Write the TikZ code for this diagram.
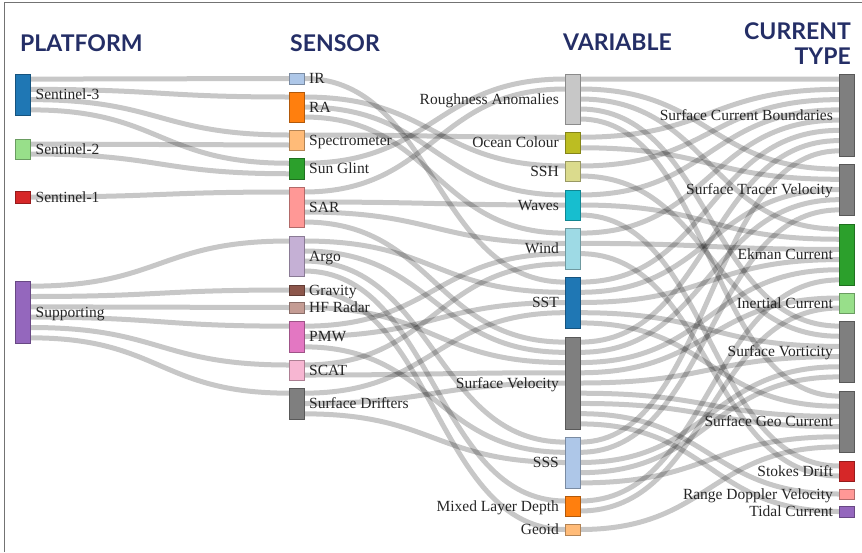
\documentclass[tikz,border=0pt]{standalone}
\usepackage{fontspec}
\setmainfont{Liberation Serif}
\newfontfamily\headfont{Lato}
\usetikzlibrary{positioning,calc,backgrounds}

\definecolor{headcolor}{RGB}{36,46,102}
\definecolor{cblue}{RGB}{31,119,180}
\definecolor{cltblue}{RGB}{174,199,232}
\definecolor{corange}{RGB}{255,127,14}
\definecolor{cltorange}{RGB}{255,187,120}
\definecolor{cgreen}{RGB}{44,160,44}
\definecolor{cltgreen}{RGB}{152,223,138}
\definecolor{cred}{RGB}{214,39,40}
\definecolor{cpink}{RGB}{255,152,150}
\definecolor{cpurple}{RGB}{148,103,189}
\definecolor{clilac}{RGB}{197,176,213}
\definecolor{cbrown}{RGB}{140,86,75}
\definecolor{cltbrown}{RGB}{196,156,148}
\definecolor{cmagenta}{RGB}{227,119,194}
\definecolor{cltpink}{RGB}{247,182,210}
\definecolor{cgray}{RGB}{127,127,127}
\definecolor{cltgray}{RGB}{199,199,199}
\definecolor{colive}{RGB}{188,189,34}
\definecolor{cltolive}{RGB}{219,219,141}
\definecolor{ccyan}{RGB}{23,190,207}
\definecolor{cltcyan}{RGB}{158,218,229}

\tikzset{
  bar/.style={draw=#1!70!black, fill=#1, line width=0.6pt,
    minimum width=15pt, inner sep=0pt, outer sep=0pt},
  lbl/.style={font=\fontsize{15.5}{16}\selectfont, text=black!85,
    inner sep=0pt, text height=0.7em, text depth=0pt, yshift=-1.5pt},
  head/.style={font=\headfont\bfseries\fontsize{23}{25}\selectfont,
    text=headcolor, inner sep=0pt},
  flow/.style={draw=black, draw opacity=0.22, line width=5pt}
}

% link from slot #2 of #3 on node #1 to slot #5 of #6 on node #4
\newcommand\flowlink[6]{%
  \draw[flow] ($(#1.north east)!{(#2-0.5)/#3}!(#1.south east)$)
    .. controls +(130,0) and +(-130,0) ..
    ($(#4.north west)!{(#5-0.5)/#6}!(#4.south west)$);}

\begin{document}
\begin{tikzpicture}[x=1pt,y=-1pt]
\useasboundingbox (0,0) rectangle (862,552);

% -------- frame --------
\draw[black!55, line width=1pt] (4.5,552) -- (4.5,2) -- (862,2);

% -------- headings --------
\node[head, anchor=north west] (hplat) at (20,34) {PLATFORM};
\node[head, anchor=north west] (hsens) at (290,34) {SENSOR};
\node[head, anchor=north west] (hvar) at (563,34) {VARIABLE};
\node[head, anchor=north east, align=right] (hcur) at (851,22) {CURRENT\\TYPE};

% -------- platforms --------
\node[bar=cblue, minimum height=41pt] (s3) at (23,94.5) {};
\node[bar=cltgreen, minimum height=20pt] (s2) at (23,149) {};
\node[bar=cred, minimum height=12pt] (s1) at (23,197) {};
\node[bar=cpurple, minimum height=62pt] (sup) at (23,312) {};
\node[lbl, right=5pt of s3] {Sentinel-3};
\node[lbl, right=5pt of s2] {Sentinel-2};
\node[lbl, right=5pt of s1] {Sentinel-1};
\node[lbl, right=5pt of sup] {Supporting};

% -------- sensors --------
\node[bar=cltblue, minimum height=11pt] (ir) at (296.5,78.5) {};
\node[bar=corange, minimum height=30pt] (ra) at (296.5,107) {};
\node[bar=cltorange, minimum height=20pt] (spec) at (296.5,140) {};
\node[bar=cgreen, minimum height=21pt] (glint) at (296.5,168.5) {};
\node[bar=cpink, minimum height=40pt] (sar) at (296.5,207) {};
\node[bar=clilac, minimum height=40pt] (argo) at (296.5,256) {};
\node[bar=cbrown, minimum height=10pt] (grav) at (296.5,290) {};
\node[bar=cltbrown, minimum height=11pt] (hfr) at (296.5,307.5) {};
\node[bar=cmagenta, minimum height=31pt] (pmw) at (296.5,336.5) {};
\node[bar=cltpink, minimum height=20pt] (scat) at (296.5,370) {};
\node[bar=cgray, minimum height=31pt] (drift) at (296.5,403.5) {};
\node[lbl, right=5pt of ir] {IR};
\node[lbl, right=5pt of ra] {RA};
\node[lbl, right=5pt of spec] {Spectrometer};
\node[lbl, right=5pt of glint] {Sun Glint};
\node[lbl, right=5pt of sar] {SAR};
\node[lbl, right=5pt of argo] {Argo};
\node[lbl, right=5pt of grav] {Gravity};
\node[lbl, right=5pt of hfr] {HF Radar};
\node[lbl, right=5pt of pmw] {PMW};
\node[lbl, right=5pt of scat] {SCAT};
\node[lbl, right=5pt of drift] {Surface Drifters};

% -------- variables --------
\node[bar=cltgray, minimum height=50pt] (rough) at (572.5,99) {};
\node[bar=colive, minimum height=21pt] (ocol) at (572.5,142.5) {};
\node[bar=cltolive, minimum height=20pt] (ssh) at (572.5,171) {};
\node[bar=ccyan, minimum height=30pt] (waves) at (572.5,205) {};
\node[bar=cltcyan, minimum height=41pt] (wind) at (572.5,248.5) {};
\node[bar=cblue, minimum height=51pt] (sst) at (572.5,302.5) {};
\node[bar=cgray, minimum height=92pt] (svel) at (572.5,383) {};
\node[bar=cltblue, minimum height=51pt] (sss) at (572.5,462.5) {};
\node[bar=corange, minimum height=20pt] (mld) at (572.5,506) {};
\node[bar=cltorange, minimum height=11pt] (geoid) at (572.5,529.5) {};
\node[lbl, left=6pt of rough] {Roughness Anomalies};
\node[lbl, left=6pt of ocol] {Ocean Colour};
\node[lbl, left=6pt of ssh] {SSH};
\node[lbl, left=6pt of waves] {Waves};
\node[lbl, left=6pt of wind] {Wind};
\node[lbl, left=6pt of sst] {SST};
\node[lbl, left=6pt of svel] {Surface Velocity};
\node[lbl, left=6pt of sss] {SSS};
\node[lbl, left=6pt of mld] {Mixed Layer Depth};
\node[lbl, left=6pt of geoid] {Geoid};

% -------- current types --------
\node[bar=cgray, minimum height=82pt] (scb) at (846.5,115) {};
\node[bar=cgray, minimum height=51pt] (stv) at (846.5,189.5) {};
\node[bar=cgreen, minimum height=61pt] (ekman) at (846.5,254.5) {};
\node[bar=cltgreen, minimum height=20pt] (inert) at (846.5,303) {};
\node[bar=cgray, minimum height=61pt] (svort) at (846.5,351.5) {};
\node[bar=cgray, minimum height=61pt] (sgeo) at (846.5,421.5) {};
\node[bar=cred, minimum height=20pt] (stokes) at (846.5,471) {};
\node[bar=cpink, minimum height=10pt] (rdv) at (846.5,494) {};
\node[bar=cpurple, minimum height=11pt] (tidal) at (846.5,511.5) {};
\node[lbl, left=6pt of scb] {Surface Current Boundaries};
\node[lbl, left=6pt of stv] {Surface Tracer Velocity};
\node[lbl, left=6pt of ekman] {Ekman Current};
\node[lbl, left=6pt of inert] {Inertial Current};
\node[lbl, left=6pt of svort] {Surface Vorticity};
\node[lbl, left=6pt of sgeo] {Surface Geo Current};
\node[lbl, left=6pt of stokes] {Stokes Drift};
\node[lbl, left=6pt of rdv] {Range Doppler Velocity};
\node[lbl, left=6pt of tidal] {Tidal Current};

\begin{scope}[on background layer]
% -------- platform -> sensor --------
\flowlink{s3}{1}{4}{ir}{1}{1}
\flowlink{s3}{2}{4}{ra}{1}{3}
\flowlink{s3}{3}{4}{spec}{1}{2}
\flowlink{s3}{4}{4}{glint}{1}{2}
\flowlink{s2}{1}{2}{spec}{2}{2}
\flowlink{s2}{2}{2}{glint}{2}{2}
\flowlink{s1}{1}{1}{sar}{1}{4}
\flowlink{sup}{1}{6}{argo}{1}{4}
\flowlink{sup}{2}{6}{grav}{1}{1}
\flowlink{sup}{3}{6}{hfr}{1}{1}
\flowlink{sup}{4}{6}{pmw}{1}{3}
\flowlink{sup}{5}{6}{scat}{1}{2}
\flowlink{sup}{6}{6}{drift}{1}{3}

% -------- sensor -> variable --------
\flowlink{ir}{1}{1}{sst}{1}{5}
\flowlink{ra}{1}{3}{ssh}{1}{2}
\flowlink{ra}{2}{3}{waves}{1}{3}
\flowlink{ra}{3}{3}{wind}{1}{4}
\flowlink{spec}{1}{2}{ocol}{1}{2}
\flowlink{glint}{1}{2}{rough}{1}{5}
\flowlink{sar}{1}{4}{rough}{2}{5}
\flowlink{sar}{2}{4}{waves}{2}{3}
\flowlink{sar}{3}{4}{wind}{2}{4}
\flowlink{sar}{4}{4}{svel}{1}{9}
\flowlink{argo}{1}{4}{sst}{2}{5}
\flowlink{argo}{2}{4}{svel}{2}{9}
\flowlink{argo}{3}{4}{sss}{1}{5}
\flowlink{argo}{4}{4}{mld}{1}{2}
\flowlink{grav}{1}{1}{geoid}{1}{1}
\flowlink{hfr}{1}{1}{svel}{3}{9}
\flowlink{pmw}{1}{3}{wind}{3}{4}
\flowlink{pmw}{2}{3}{sst}{3}{5}
\flowlink{pmw}{3}{3}{sss}{2}{5}
\flowlink{scat}{1}{2}{wind}{4}{4}
\flowlink{scat}{2}{2}{svel}{4}{9}
\flowlink{drift}{1}{3}{sst}{4}{5}
\flowlink{drift}{2}{3}{svel}{5}{9}
\flowlink{drift}{3}{3}{sss}{3}{5}

% -------- variable -> current type --------
\flowlink{rough}{1}{5}{scb}{1}{8}
\flowlink{rough}{2}{5}{stv}{1}{5}
\flowlink{rough}{3}{5}{ekman}{1}{6}
\flowlink{rough}{4}{5}{svort}{1}{6}
\flowlink{rough}{5}{5}{sgeo}{1}{6}
\flowlink{ocol}{1}{2}{scb}{2}{8}
\flowlink{ocol}{2}{2}{stv}{2}{5}
\flowlink{ssh}{1}{2}{scb}{3}{8}
\flowlink{ssh}{2}{2}{svort}{2}{6}
\flowlink{waves}{1}{3}{scb}{4}{8}
\flowlink{waves}{2}{3}{ekman}{2}{6}
\flowlink{waves}{3}{3}{stokes}{1}{2}
\flowlink{wind}{1}{4}{scb}{5}{8}
\flowlink{wind}{2}{4}{ekman}{3}{6}
\flowlink{wind}{3}{4}{stokes}{2}{2}
\flowlink{sst}{1}{5}{scb}{6}{8}
\flowlink{sst}{2}{5}{stv}{3}{5}
\flowlink{sst}{3}{5}{ekman}{4}{6}
\flowlink{sst}{4}{5}{svort}{3}{6}
\flowlink{sst}{5}{5}{sgeo}{2}{6}
\flowlink{svel}{1}{9}{scb}{7}{8}
\flowlink{svel}{2}{9}{stv}{4}{5}
\flowlink{svel}{3}{9}{ekman}{5}{6}
\flowlink{svel}{4}{9}{inert}{1}{2}
\flowlink{svel}{5}{9}{svort}{4}{6}
\flowlink{svel}{6}{9}{sgeo}{3}{6}
\flowlink{svel}{7}{9}{sgeo}{4}{6}
\flowlink{svel}{8}{9}{rdv}{1}{1}
\flowlink{svel}{9}{9}{tidal}{1}{1}
\flowlink{sss}{1}{5}{scb}{8}{8}
\flowlink{sss}{2}{5}{stv}{5}{5}
\flowlink{sss}{3}{5}{svort}{5}{6}
\flowlink{sss}{4}{5}{svort}{6}{6}
\flowlink{sss}{5}{5}{sgeo}{5}{6}
\flowlink{mld}{1}{2}{ekman}{6}{6}
\flowlink{mld}{2}{2}{inert}{2}{2}
\flowlink{geoid}{1}{1}{sgeo}{6}{6}
\end{scope}

\end{tikzpicture}
\end{document}
